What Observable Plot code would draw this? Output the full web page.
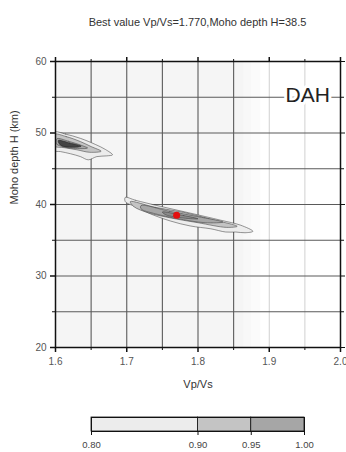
<!DOCTYPE html>
<html><head><meta charset="utf-8">
<script src="https://cdn.jsdelivr.net/npm/d3@7"></script>
<script src="https://cdn.jsdelivr.net/npm/@observablehq/plot@0.6"></script>
<style>
body{margin:0;background:#fff;font-family:"Liberation Sans",Arial,sans-serif;}
#fig{position:relative;width:346px;height:452px;overflow:hidden;background:#fff}
#title{position:absolute;left:0;top:16px;width:395px;text-align:center;font-size:11px;color:#333;white-space:nowrap}
#main{position:absolute;left:0;top:0}
#cbar{position:absolute;left:0;top:405px}
svg{background:transparent !important}
</style></head><body>
<div id="fig"><div id="main"></div><div id="cbar"></div><div id="title"></div></div>
<script>
// ---- data ----
const titleText = "Best value Vp/Vs=1.770,Moho depth H=38.5";
const xLabel = "Vp/Vs";
const yLabel = "Moho depth H (km)";
const station = [{vpvs: 1.954, h: 55.3, name: "DAH"}];
const best = [{vpvs: 1.770, h: 38.5}];
const xMajor = [1.6, 1.7, 1.8, 1.9, 2.0];
const xMinor = [1.65, 1.75, 1.85, 1.95];
const yMajor = [20, 30, 40, 50, 60];
const yMinor = [25, 35, 45, 55];
const gridX = [1.65, 1.7, 1.75, 1.8, 1.85, 1.9, 1.95];
const gridY = [25, 30, 35, 40, 45, 50, 55];
const shadeBands = [
  {a: 1.600, b: 1.865, tone: "#f5f5f5"},
  {a: 1.865, b: 1.875, tone: "#f8f8f8"},
  {a: 1.875, b: 1.888, tone: "#fbfbfb"}
];
const fadedFrom = 1.88; // grid lighter where the stack fades to white
// contour polygons [vpvs, H], grouped by level
const level80 = [
  {id: "a", pts: [[1.598,50.1],[1.614,49.85],[1.635,49.25],[1.656,48.4],[1.670,47.7],[1.680,46.95],[1.672,46.8],[1.658,46.7],[1.646,46.25],[1.635,46.7],[1.621,47.1],[1.607,47.4],[1.598,47.55]]},
  {id: "b", pts: [[1.698,41.0],[1.712,40.6],[1.747,39.75],[1.789,38.8],[1.832,37.8],[1.860,37.1],[1.877,36.25],[1.866,36.05],[1.853,36.15],[1.839,36.15],[1.818,36.6],[1.789,37.0],[1.761,37.7],[1.733,38.7],[1.712,39.7],[1.698,40.4]]}
];
const level90 = [
  {id: "a", pts: [[1.598,49.8],[1.615,49.5],[1.635,48.8],[1.650,48.1],[1.664,47.45],[1.648,47.3],[1.630,47.65],[1.612,47.95],[1.598,48.2]]},
  {id: "b", pts: [[1.705,40.4],[1.74,39.6],[1.78,38.9],[1.82,37.9],[1.855,36.95],[1.84,36.8],[1.80,37.45],[1.76,38.15],[1.73,38.85],[1.71,39.7]]}
];
const level95 = [
  {id: "a", pts: [[1.602,49.2],[1.618,48.85],[1.637,48.25],[1.645,47.9],[1.625,47.85],[1.608,48.15],[1.601,48.5]]},
  {id: "b", pts: [[1.72,39.85],[1.76,39.05],[1.80,38.3],[1.835,37.55],[1.81,37.45],[1.77,38.05],[1.74,38.7],[1.72,39.4]]}
];
const level98 = [
  {id: "a", pts: [[1.604,48.95],[1.62,48.6],[1.636,48.15],[1.624,48.0],[1.607,48.3]]},
  {id: "b", pts: [[1.75,38.95],[1.78,38.45],[1.80,38.0],[1.78,38.1],[1.755,38.55]]}
];
const cbTicks = [0.80, 0.90, 0.95, 1.00];
const cbBins = [{lo: 0.80, hi: 0.90}, {lo: 0.90, hi: 0.95}, {lo: 0.95, hi: 1.00}];
const levelColors = ["#ececec", "#c4c4c4", "#a6a6a6"];

// ---- build ----
document.getElementById("title").textContent = titleText;
const flat = (lv) => lv.flatMap(p => p.pts.map(([x, y]) => ({x, y, id: p.id})));
const poly = (lv, fill, sw = 0.5) => Plot.line(flat(lv), {x: "x", y: "y", z: "id", fill, stroke: "#333", strokeWidth: sw, curve: "catmull-rom-closed", clip: true});
const blank = () => "";
const ink = "#111";

const main = Plot.plot({
  width: 346, height: 400,
  marginTop: 61, marginBottom: 53, marginLeft: 55, marginRight: 6,
  style: {fontFamily: "Liberation Sans, Arial, sans-serif", color: "#333", background: "transparent"},
  x: {domain: [1.6, 2.0]},
  y: {domain: [20, 60]},
  marks: [
    Plot.rect(shadeBands, {x1: "a", x2: "b", y1: () => 20, y2: () => 60, fill: d => d.tone}),
    Plot.ruleX(gridX.filter(d => d < fadedFrom), {stroke: "#5a5a5a", strokeWidth: 1.1}),
    Plot.ruleX(gridX.filter(d => d >= fadedFrom), {stroke: "#d0d0d0", strokeWidth: 1}),
    Plot.ruleY(gridY, {stroke: "#5a5a5a", strokeWidth: 1.1}),
    poly(level80, levelColors[0]),
    poly(level90, levelColors[1]),
    poly(level95, levelColors[2]),
    Plot.line(flat(level98.slice(0, 1)), {x: "x", y: "y", z: "id", fill: "#444", stroke: "#222", strokeWidth: 0.6, curve: "catmull-rom-closed", clip: true}),
    Plot.line(flat(level98.slice(1)), {x: "x", y: "y", z: "id", fill: "#8a8a8a", stroke: "#333", strokeWidth: 0.5, curve: "catmull-rom-closed", clip: true}),
    Plot.dot(best, {x: "vpvs", y: "h", r: 3.5, fill: "#e41010", stroke: null}),
    Plot.text(station, {x: "vpvs", y: "h", text: "name", fontSize: 21, fill: "#222", stroke: "white", strokeWidth: 6, textAnchor: "middle"}),
    Plot.frame({stroke: ink, strokeWidth: 1.5}),
    Plot.axisX({ticks: xMajor, tickSize: 5, tickPadding: 5, tickFormat: ".1f", fontSize: 10, label: null, stroke: ink, strokeWidth: 1.5, fill: "#555"}),
    Plot.axisX({ticks: xMinor, tickSize: 3, tickFormat: blank, label: null, stroke: ink}),
    Plot.axisX({anchor: "top", ticks: xMajor, tickSize: 5, tickFormat: blank, label: null, stroke: ink, strokeWidth: 1.5}),
    Plot.axisX({anchor: "top", ticks: xMinor, tickSize: 3, tickFormat: blank, label: null, stroke: ink}),
    Plot.axisY({ticks: yMajor, tickSize: 5, tickPadding: 4, tickFormat: d => d, fontSize: 10, label: null, stroke: ink, strokeWidth: 1.5, fill: "#555"}),
    Plot.axisY({ticks: yMinor, tickSize: 3, tickFormat: blank, label: null, stroke: ink}),
    Plot.axisY({anchor: "right", ticks: yMajor, tickSize: 4, tickFormat: blank, label: null, stroke: ink}),
    Plot.axisY({anchor: "right", ticks: yMinor, tickSize: 3, tickFormat: blank, label: null, stroke: ink}),
    Plot.text([xLabel], {text: d => d, frameAnchor: "bottom", dy: 40, fontSize: 11, fill: "#333"}),
    Plot.text([yLabel], {text: d => d, frameAnchor: "left", dx: -41, rotate: -90, fontSize: 11, fill: "#333"})
  ]
});
document.getElementById("main").appendChild(main);

const cbar = Plot.plot({
  width: 346, height: 47,
  marginTop: 12, marginBottom: 21, marginLeft: 91, marginRight: 42,
  style: {fontFamily: "Liberation Sans, Arial, sans-serif", color: "#333", background: "transparent"},
  x: {domain: [0.8, 1.0]},
  y: {domain: [0, 1], axis: null},
  color: {type: "identity"},
  marks: [
    Plot.rect(cbBins, {x1: "lo", x2: "hi", y1: () => 0, y2: () => 1, fill: (d, i) => levelColors[i], stroke: ink, strokeWidth: 0.8}),
    Plot.frame({stroke: ink, strokeWidth: 1}),
    Plot.axisX({ticks: cbTicks, tickSize: 4, tickPadding: 6, tickFormat: ".2f", fontSize: 9.5, label: null, stroke: ink, fill: "#444"})
  ]
});
document.getElementById("cbar").appendChild(cbar);
</script>
</body></html>
